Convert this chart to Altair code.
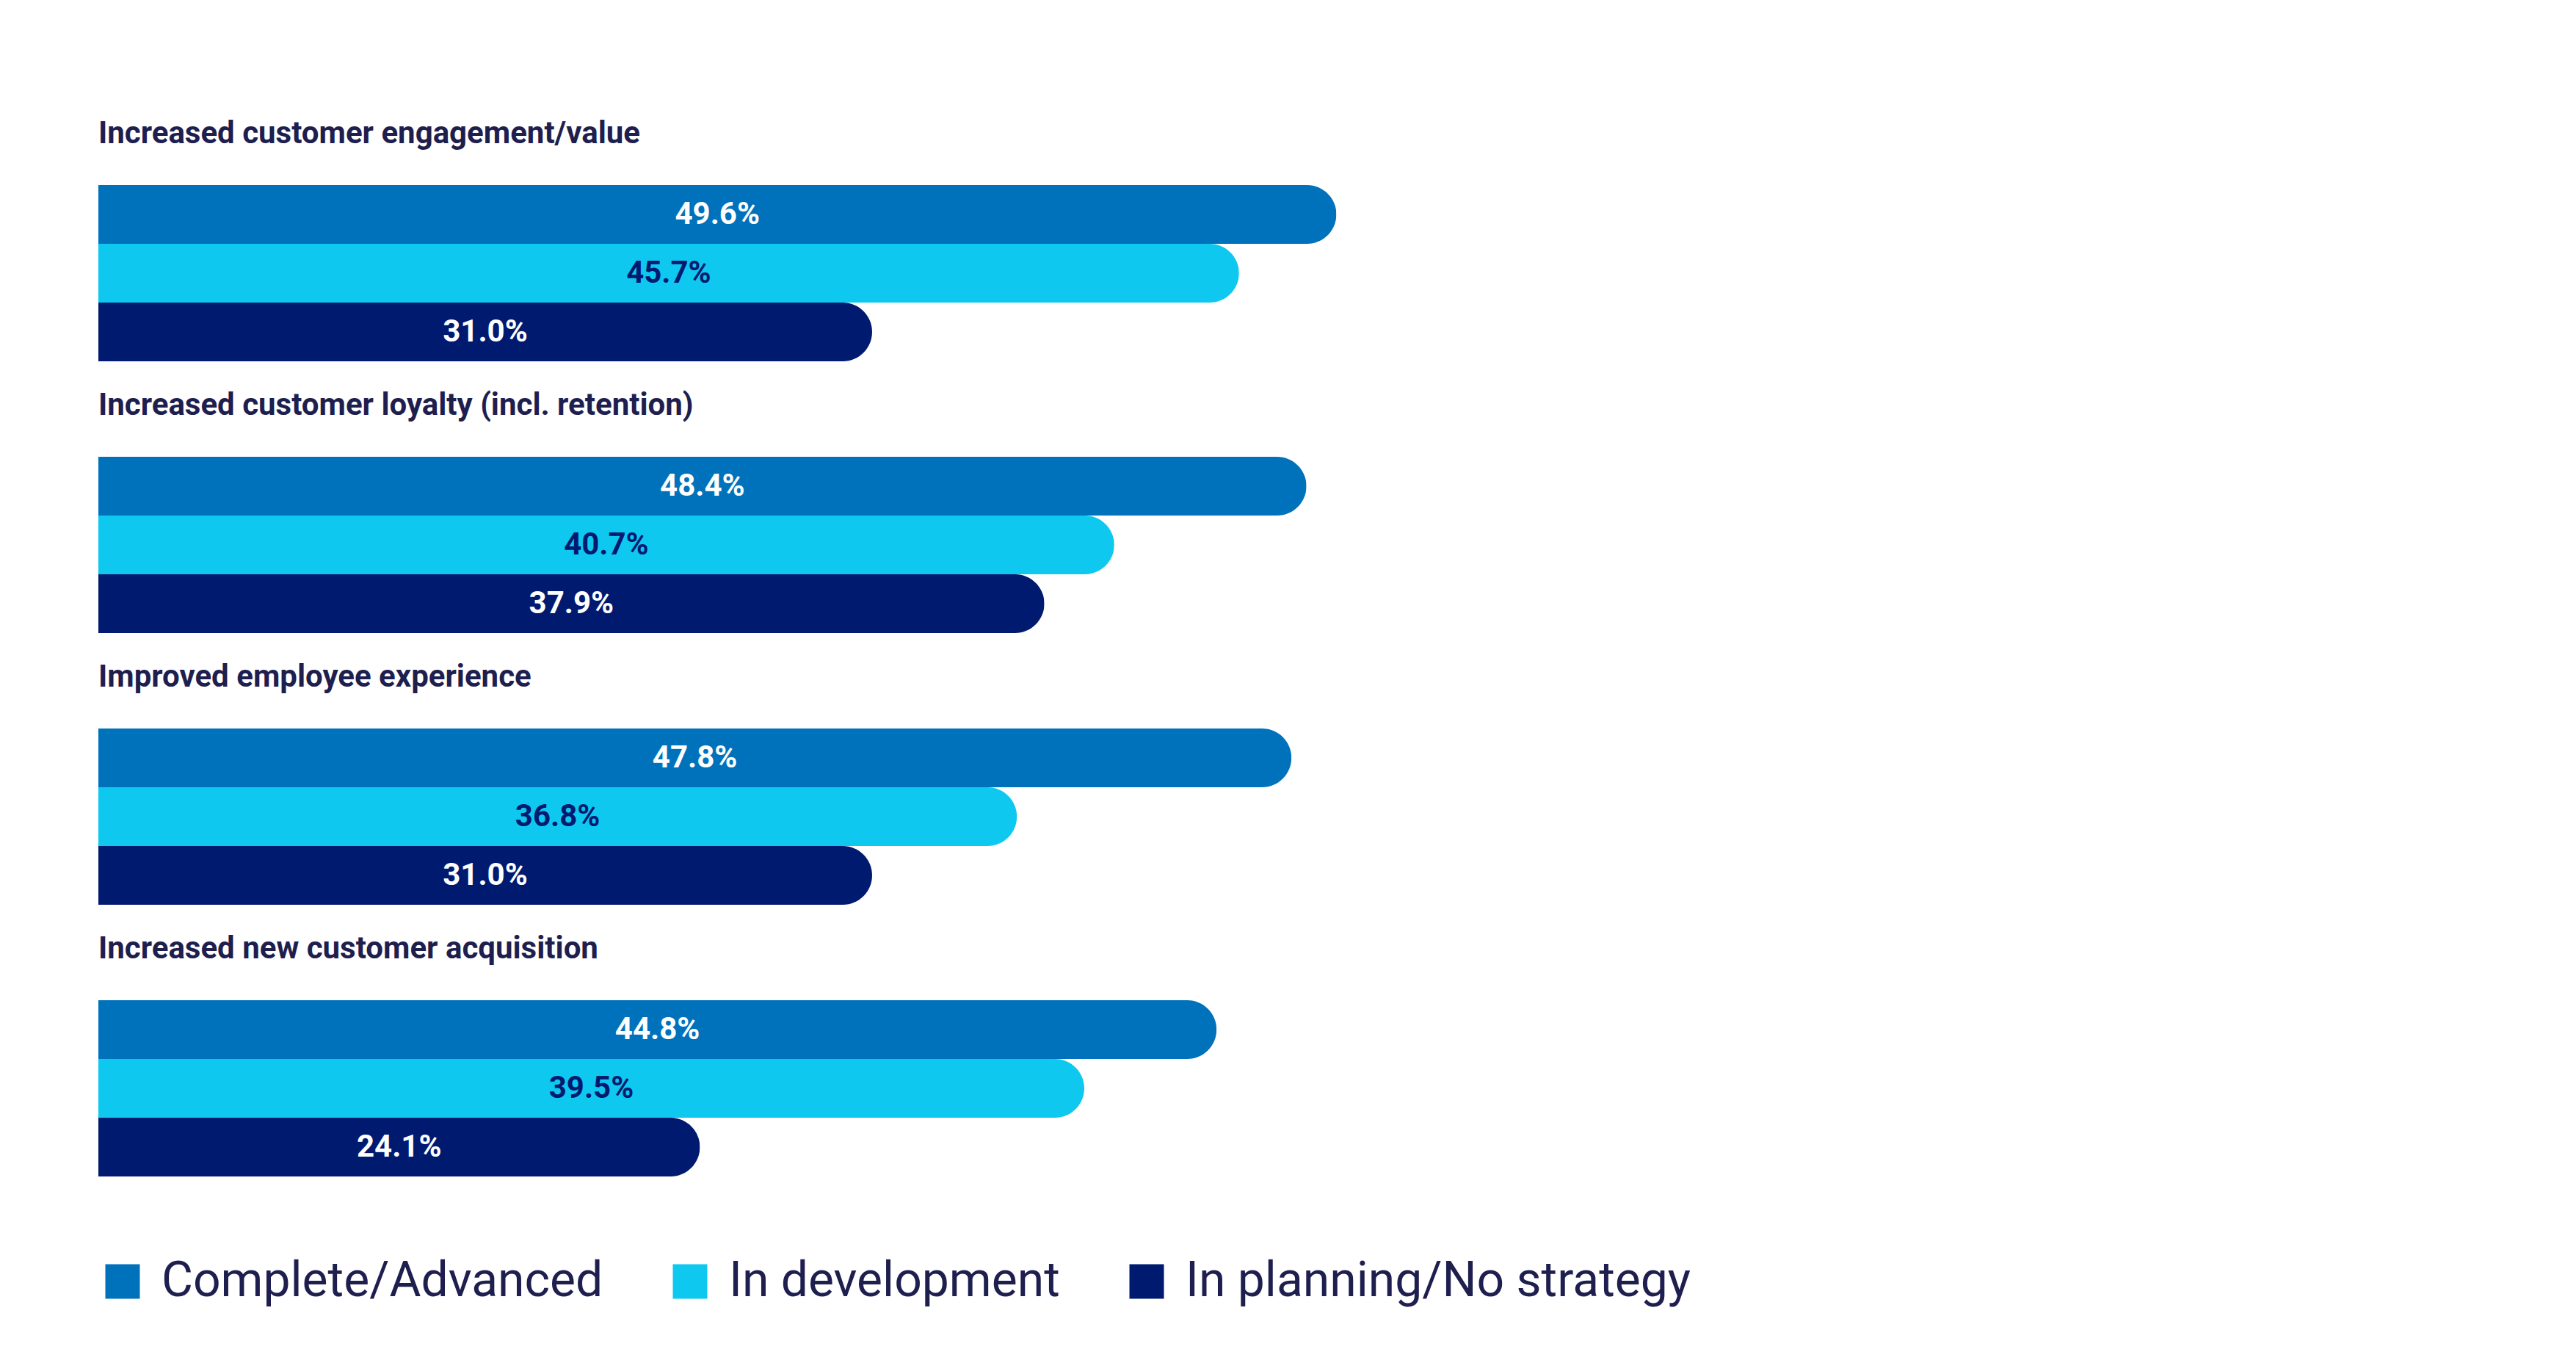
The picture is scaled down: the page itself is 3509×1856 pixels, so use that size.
import altair as alt
import pandas as pd

categories = [
    "Increased customer engagement/value",
    "Increased customer loyalty (incl. retention)",
    "Improved employee experience",
    "Increased new customer acquisition",
]
series = ["Complete/Advanced", "In development", "In planning/No strategy"]
complete = [49.6, 48.4, 47.8, 44.8]
development = [45.7, 40.7, 36.8, 39.5]
planning = [31.0, 37.9, 31.0, 24.1]
colors = ["#0072BC", "#0FC8F0", "#001A70"]

rows = []
for i, cat in enumerate(categories):
    for s, vals in zip(series, [complete, development, planning]):
        rows.append({"category": cat, "series": s, "value": vals[i]})
df = pd.DataFrame(rows)

TEXT = "#1E1F4F"

y_enc = alt.Y("series:N", sort=series, axis=None,
              scale=alt.Scale(paddingInner=0, paddingOuter=0))

bars = alt.Chart().mark_bar(cornerRadiusEnd=40).encode(
    x=alt.X("value:Q", axis=None, scale=alt.Scale(domain=[0, 50], nice=False)),
    y=y_enc,
    color=alt.Color(
        "series:N",
        sort=series,
        scale=alt.Scale(domain=series, range=colors),
        legend=alt.Legend(
            title=None,
            orient="none",
            legendX=0,
            legendY=1460,
            direction="horizontal",
            symbolType="square",
            symbolSize=2209,
            symbolStrokeWidth=0,
            symbolOpacity=1,
            labelFont="Roboto",
            labelFontSize=66,
            labelColor=TEXT,
            labelOffset=20,
            columnPadding=85,
            labelLimit=1000,
        ),
    ),
)

text = alt.Chart().transform_calculate(
    mid="datum.value / 2",
    label="format(datum.value, '.1f') + '%'",
).mark_text(font="Roboto", fontWeight="bold", fontSize=42, baseline="middle", align="center").encode(
    x=alt.X("mid:Q"),
    y=y_enc,
    text="label:N",
    color=alt.condition(alt.datum.series == "In development", alt.value("#001A70"), alt.value("#FFFFFF")),
)

chart = alt.layer(bars, text, data=df).properties(width=1700, height=240).facet(
    facet=alt.Facet(
        "category:N",
        sort=categories,
        title=None,
        header=alt.Header(
            labelFont="Roboto",
            labelFontWeight="bold",
            labelFontSize=42,
            labelColor=TEXT,
            labelAnchor="start",
            labelOrient="top",
            labelBaseline="alphabetic",
            labelPadding=15,
            labelLimit=2000,
        ),
    ),
    columns=1,
    spacing=39,
).properties(
    padding={"left": 126, "top": 153, "right": 20, "bottom": 20}
).configure(background="white").configure_view(stroke="transparent", strokeWidth=0)

chart.save("out.html", embed_options={"renderer": "svg", "actions": False})
